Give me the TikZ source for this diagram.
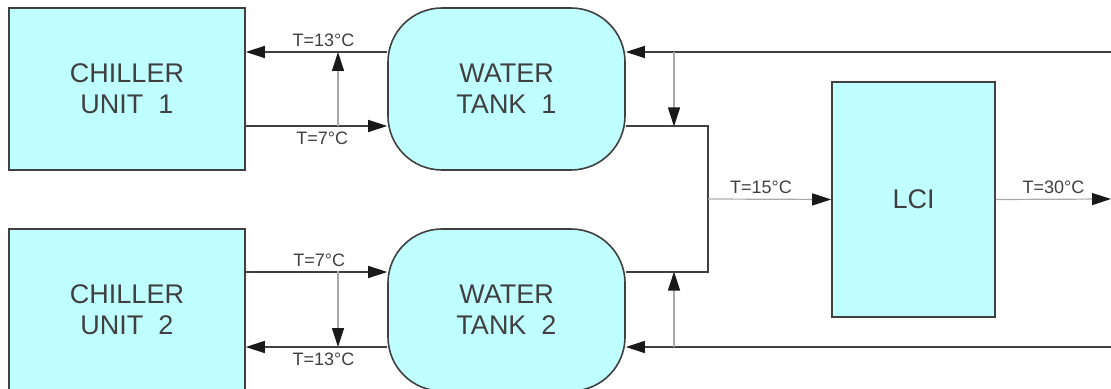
\documentclass[tikz,border=0pt]{standalone}
\usepackage{fontspec}
\setmainfont{Liberation Sans}
\usetikzlibrary{arrows.meta,positioning}
\definecolor{tankfill}{RGB}{192,255,255}
\definecolor{edge}{RGB}{64,64,64}
\definecolor{tapgray}{RGB}{170,170,170}

\begin{document}
\begin{tikzpicture}[x=0.5pt,y=-0.5pt,
  unit/.style={draw=edge,line width=0.8pt,fill=tankfill,align=center,text=edge,
    font=\fontsize{13.5}{15.5}\selectfont,minimum width=118pt,minimum height=81pt,inner sep=0pt},
  tank/.style={unit,rounded corners=27pt,minimum width=118.5pt},
  flow/.style={draw=edge,line width=0.8pt},
  tap/.style={draw=tapgray,line width=0.6pt},
  tip/.style={-{Triangle[length=9.5pt,width=6pt,color=black!90]}},
  lbl/.style={font=\fontsize{9}{10}\selectfont,text=edge,inner sep=2.5pt}]
  \clip (0,0) rectangle (1111,389);
  % blocks
  \node[unit] (chillerA) at (127,89) {CHILLER\\UNIT\ \ 1};
  \node[unit] (chillerB) at (127,310) {CHILLER\\UNIT\ \ 2};
  \node[tank] (tankA) at (506.5,89) {WATER\\TANK\ \ 1};
  \node[tank] (tankB) at (506.5,310) {WATER\\TANK\ \ 2};
  \node[unit,minimum width=81.5pt,minimum height=117.5pt] (lci) at (913.5,199.5) {LCI};
  % junctions and free ends
  \coordinate (retA) at (338,52);   \coordinate (bypA) at (338,126.5);
  \coordinate (retB) at (338,347);  \coordinate (bypB) at (338,271.5);
  \coordinate (supA) at (1111,52);  \coordinate (tapA) at (674,52);  \coordinate (jA) at (674,126.5);
  \coordinate (supB) at (1111,347); \coordinate (tapB) at (674,347); \coordinate (jB) at (674,271.5);
  \coordinate (mix) at (708,199);   \coordinate (out) at (1111,199);
  % chiller loops
  \draw[flow,tip] ([yshift=18.5pt]tankA.west) -- node[lbl,above,pos=0.45] {T=13°C} ([yshift=18.5pt]chillerA.east);
  \draw[flow,tip] ([yshift=-18.5pt]chillerA.east) -- node[lbl,below,pos=0.54] {T=7°C} ([yshift=-18.5pt]tankA.west);
  \draw[flow,tip] ([yshift=19pt]chillerB.east) -- node[lbl,above,pos=0.52] {T=7°C} ([yshift=19pt]tankB.west);
  \draw[flow,tip] ([yshift=-18.5pt]tankB.west) -- node[lbl,below,pos=0.45] {T=13°C} ([yshift=-18.5pt]chillerB.east);
  \draw[tap,tip] (bypA) -- (retA);
  \draw[tap,tip] (bypB) -- (retB);
  % load side
  \draw[flow,tip] (supA) -- ([yshift=18.5pt]tankA.east);
  \draw[flow,tip] (supB) -- ([yshift=-18.5pt]tankB.east);
  \draw[tap,tip] (tapA) -- (jA);
  \draw[tap,tip] (tapB) -- (jB);
  \draw[flow] ([yshift=-18.5pt]tankA.east) -| (mix) |- ([yshift=19pt]tankB.east);
  \draw[tap,tip] (mix) -- node[lbl,above,pos=0.43] {T=15°C} (lci.west);
  \draw[tap,tip] (lci.east) -- node[lbl,above] {T=30°C} (out);
\end{tikzpicture}
\end{document}
